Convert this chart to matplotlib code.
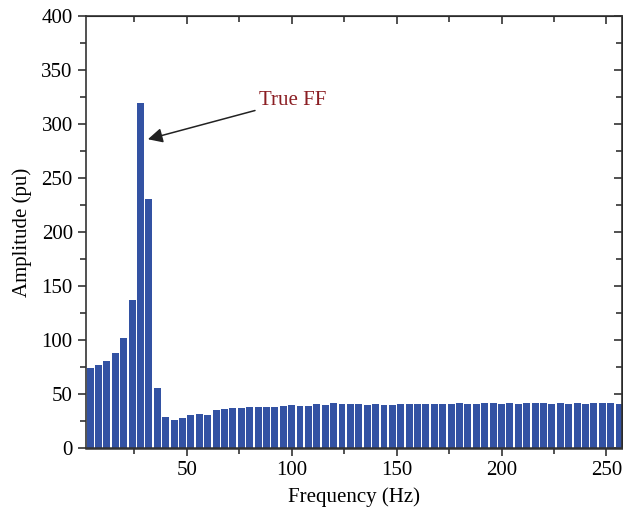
import numpy as np
import matplotlib
matplotlib.use("Agg")
from matplotlib import pyplot as plt
from matplotlib.ticker import MultipleLocator

# spectrum bins (Hz) and amplitudes (pu)
freq = np.arange(4, 257, 4)
amp = [74, 77, 81, 88, 102, 137, 320, 231, 56, 29,
       26, 28, 31, 32, 31, 35, 36, 37, 37, 38,
       38, 38, 38, 39, 40, 39, 39, 41, 40, 42,
       41, 41, 41, 40, 41, 40, 40, 41, 41, 41,
       41, 41, 41, 41, 42, 41, 41, 42, 42, 41,
       42, 41, 42, 42, 42, 41, 42, 41, 42, 41,
       42, 42, 42, 41]

peak_label = "True FF"

plt.rcParams['font.family'] = 'Liberation Serif'
plt.rcParams['font.size'] = 15

fig = plt.figure(figsize=(6.23, 5.21), dpi=100)
ax = fig.add_axes([0.138, 0.140, 0.860, 0.829])

ax.bar(freq, amp, width=3.3, color='#3352a3', zorder=2)

ax.set_xlim(2, 257.3)
ax.set_ylim(0, 400)
ax.xaxis.set_major_locator(MultipleLocator(50))
ax.xaxis.set_minor_locator(MultipleLocator(25))
ax.yaxis.set_major_locator(MultipleLocator(50))
ax.yaxis.set_minor_locator(MultipleLocator(25))

ax.tick_params(which='both', direction='out', color='#333333', width=1.2)
ax.tick_params(which='major', length=6)
ax.tick_params(which='minor', length=4)
for s in ax.spines.values():
    s.set_color('#333333')
    s.set_linewidth(1.2)
ax.spines['bottom'].set_linewidth(1.8)

# inward mirror ticks on top and right
top = ax.secondary_xaxis('top')
top.xaxis.set_major_locator(MultipleLocator(50))
top.xaxis.set_minor_locator(MultipleLocator(25))
top.tick_params(which='both', direction='in', labeltop=False, color='#333333', width=1.2)
top.tick_params(which='major', length=6)
top.tick_params(which='minor', length=4)
right = ax.secondary_yaxis('right')
right.yaxis.set_major_locator(MultipleLocator(50))
right.yaxis.set_minor_locator(MultipleLocator(25))
right.tick_params(which='both', direction='in', labelright=False, color='#333333', width=1.2)
right.tick_params(which='major', length=6)
right.tick_params(which='minor', length=4)

ax.set_xlabel('Frequency (Hz)', labelpad=5)
ax.set_ylabel('Amplitude (pu)', labelpad=7)

ax.annotate(peak_label, xy=(31.5, 286), xytext=(84.5, 322),
            color='#8b1e23', va='center', ha='left',
            arrowprops=dict(arrowstyle='-|>', color='#222222', lw=1.1,
                            mutation_scale=22, shrinkA=1, shrinkB=0))

fig.savefig('out.png', dpi=100)
